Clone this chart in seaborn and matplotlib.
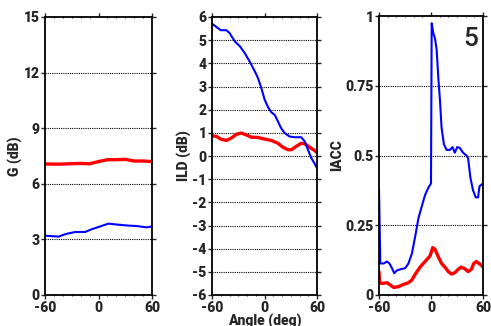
import matplotlib
matplotlib.use("Agg")
import matplotlib.pyplot as plt
import seaborn as sns
import pandas as pd
import numpy as np
from matplotlib.ticker import MultipleLocator

# ---- data ----
g_blue_x = [-60, -45, -36, -26, -15, -7.5, 2, 11, 21, 32, 43, 54, 60]
g_blue_y = [3.2, 3.15, 3.3, 3.4, 3.4, 3.55, 3.7, 3.85, 3.8, 3.75, 3.72, 3.65, 3.7]
g_red_x = [-60, -45, -20, -10, 0, 10, 20, 30, 40, 50, 60]
g_red_y = [7.07, 7.06, 7.1, 7.08, 7.2, 7.3, 7.3, 7.32, 7.23, 7.23, 7.2]

ild_blue_x = [-60, -55, -50, -43.6, -40, -34, -28, -22.7, -17, -11, -7.4, -3.6, 0.2, 4, 8,
              11.6, 15.4, 19, 23, 28.8, 34.5, 42, 46, 49.7, 53.5, 57, 60]
ild_blue_y = [5.71, 5.57, 5.43, 5.43, 5.31, 4.95, 4.73, 4.45, 4.08, 3.65, 3.36, 2.93, 2.43,
              2.11, 1.88, 1.78, 1.49, 1.2, 0.99, 0.84, 0.81, 0.81, 0.63, 0.27, -0.09, -0.31, -0.53]
ild_red_x = [-60, -55, -50, -43.6, -38, -32, -26.5, -20.8, -15, -7.4, 0.2, 8, 15.4, 21, 27,
             30.7, 36, 42, 46, 51.6, 56, 60]
ild_red_y = [0.87, 0.85, 0.73, 0.67, 0.77, 0.94, 0.99, 0.91, 0.81, 0.8, 0.73, 0.67, 0.55,
             0.38, 0.27, 0.27, 0.41, 0.55, 0.53, 0.38, 0.27, 0.15]

iacc_blue_x = [-60, -58.5, -54.6, -50.8, -48, -45, -42.4, -39.4, -35.5, -29.8, -26, -22,
               -18.3, -14.5, -10.7, -6.9, -3, 0, 0.8, 2.7, 4.6, 6.5, 8.4, 10.3, 12.2, 14.9,
               18, 21.8, 24.8, 27.5, 30.2, 33, 37, 40.9, 42.8, 45.5, 48.5, 51.6, 54.3, 56, 60]
iacc_blue_y = [0.38, 0.113, 0.113, 0.12, 0.113, 0.096, 0.078, 0.088, 0.092, 0.096, 0.113,
               0.149, 0.209, 0.275, 0.317, 0.358, 0.385, 0.4, 0.974, 0.938, 0.92, 0.88, 0.78,
               0.70, 0.60, 0.54, 0.52, 0.52, 0.53, 0.51, 0.53, 0.528, 0.51, 0.50, 0.49, 0.42,
               0.375, 0.35, 0.35, 0.39, 0.40]
iacc_red_x = [-60, -59.2, -54.6, -50.8, -47, -43, -37.5, -31.7, -26, -22, -18.3, -12.6, -6.9,
              -1.1, 2, 4.6, 8.4, 12.2, 16, 19.9, 23.7, 27.5, 31.4, 35, 39, 42.8, 46.6, 49.3,
              52.4, 55.4, 58, 60]
iacc_red_y = [0.084, 0.042, 0.042, 0.044, 0.036, 0.027, 0.03, 0.038, 0.044, 0.054, 0.074,
              0.1, 0.12, 0.14, 0.17, 0.164, 0.137, 0.113, 0.1, 0.084, 0.075, 0.08, 0.092, 0.1,
              0.094, 0.084, 0.092, 0.113, 0.12, 0.113, 0.107, 0.1]

panel_label = "5"

sns.set_style("ticks")
plt.rcParams['font.family'] = ['Roboto', 'DejaVu Sans']
plt.rcParams['axes.unicode_minus'] = False
FW = 'black'

fig = plt.figure(figsize=(4.91, 3.26), dpi=100)
H = 326.0
W = 491.0
def add_ax(l, r, t, b):
    return fig.add_axes([l / W, (H - b) / H, (r - l) / W, (b - t) / H])

ax1 = add_ax(45, 152, 17, 295)
ax2 = add_ax(212, 317, 17, 295)
ax3 = add_ax(379, 483, 16, 295)

def draw(ax, bx, by, rx, ry):
    df_b = pd.DataFrame({"x": bx, "y": by})
    df_r = pd.DataFrame({"x": rx, "y": ry})
    sns.lineplot(data=df_r, x="x", y="y", ax=ax, color="#ff0000", lw=2.4, sort=False)
    sns.lineplot(data=df_b, x="x", y="y", ax=ax, color="#0000ff", lw=1.5, sort=False)

draw(ax1, g_blue_x, g_blue_y, g_red_x, g_red_y)
draw(ax2, ild_blue_x, ild_blue_y, ild_red_x, ild_red_y)
draw(ax3, iacc_blue_x, iacc_blue_y, iacc_red_x, iacc_red_y)

ax1.set_ylim(0, 15)
ax1.set_yticks([0, 3, 6, 9, 12, 15])
ax2.set_ylim(-6, 6)
ax2.set_yticks(range(-6, 7))
ax3.set_ylim(0, 1)
ax3.set_yticks([0, 0.25, 0.5, 0.75, 1])
ax3.set_yticklabels(["0", "0.25", "0.5", "0.75", "1"])

for ax, lab in [(ax1, "G (dB)"), (ax2, "ILD (dB)"), (ax3, "IACC")]:
    ax.set_xlim(-60, 60)
    ax.set_xticks([-60, 0, 60])
    ax.xaxis.set_minor_locator(MultipleLocator(10))
    ax.set_ylabel(lab, fontsize=10, fontweight=FW, labelpad=1)
    ax.set_xlabel("")
    for s in ax.spines.values():
        s.set_visible(True)
        s.set_linewidth(1.3)
        s.set_color("black")
    ax.tick_params(axis='both', which='major', labelsize=10, length=3, width=1,
                   direction='out', pad=1, top=True, right=True)
    ax.tick_params(axis='x', which='minor', length=2, width=0.8, direction='inout',
                   top=True, bottom=True)
    for lbl in ax.get_xticklabels() + ax.get_yticklabels():
        lbl.set_fontweight(FW)
    lo, hi = ax.get_ylim()
    for yv in ax.get_yticks():
        if lo < yv < hi:
            ax.axhline(yv, color="black", lw=0.8, ls=(0, (1, 1)), zorder=0)

ax2.set_xlabel("Angle (deg)", fontsize=10, fontweight=FW, labelpad=-1)
ax3.text(0.95, 0.96, panel_label, transform=ax3.transAxes, ha='right', va='top',
         fontsize=19, fontweight='medium')

fig.savefig("out.png", dpi=100)
